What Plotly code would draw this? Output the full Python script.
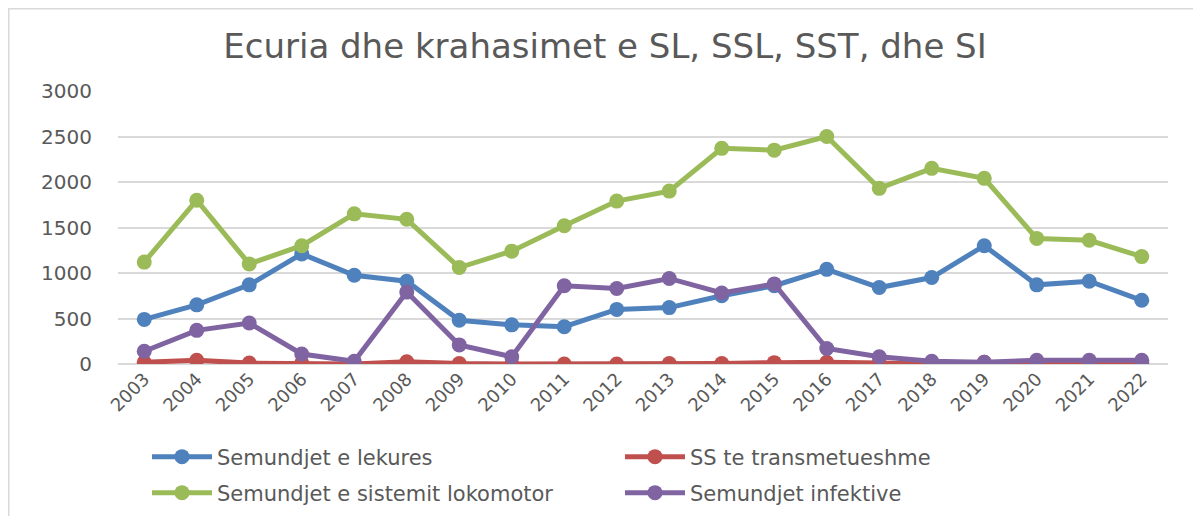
import plotly.graph_objects as go

years = [str(y) for y in range(2003, 2023)]
lekures = [490, 650, 870, 1210, 975, 910, 480, 430, 410, 600, 620, 750, 860, 1040, 840, 950, 1300, 870, 910, 700]
transmetueshme = [20, 40, 10, 10, 0, 25, 5, 0, 0, 0, 5, 5, 15, 20, 10, 0, 20, 5, 5, 10]
lokomotor = [1120, 1800, 1100, 1300, 1650, 1590, 1060, 1240, 1520, 1790, 1900, 2370, 2350, 2500, 1930, 2150, 2040, 1380, 1360, 1180]
infektive = [140, 370, 450, 110, 30, 790, 210, 80, 860, 830, 940, 780, 880, 170, 80, 30, 20, 40, 40, 40]

series = [
    ("Semundjet e lekures", lekures, "#4F81BD", "legend"),
    ("SS te transmetueshme", transmetueshme, "#C0504D", "legend"),
    ("Semundjet e sistemit lokomotor", lokomotor, "#9BBB59", "legend2"),
    ("Semundjet infektive", infektive, "#8064A2", "legend2"),
]

FONT = "DejaVu Sans, Liberation Sans, Arial"

fig = go.Figure()
for name, vals, col, lg in series:
    fig.add_trace(go.Scatter(
        x=years, y=vals, name=name, mode="lines+markers",
        line=dict(color=col, width=5),
        marker=dict(color=col, size=15),
        legend=lg,
    ))

W, H = 1201, 516
OFF = 8  # page body margin
# plot area in page coordinates: left 118, right 1168, top 91, bottom 364
ml = 118 - OFF
mt = 91 - OFF
mr = W - (1168 - OFF)
mb = H - (364 - OFF)
pw, ph = W - ml - mr, H - mt - mb

def px_x(p):  # figure px -> paper
    return (p - ml) / pw

def px_y(p):
    return (H - mb - p) / ph

def leg(ypage):
    return dict(orientation="h", xref="container", yref="container",
                x=(147 - OFF) / W, xanchor="left",
                y=1 - (ypage - OFF) / H, yanchor="middle",
                entrywidth=398, entrywidthmode="pixels",
                font=dict(size=21, color="#595959", family=FONT),
                itemwidth=60, bgcolor="rgba(0,0,0,0)")

fig.update_layout(
    width=W, height=H,
    margin=dict(l=ml, r=mr, t=mt, b=mb, autoexpand=False),
    paper_bgcolor="white", plot_bgcolor="white",
    font=dict(family=FONT, color="#595959", size=17),
    title=dict(text="Ecuria dhe krahasimet e SL, SSL, SST, dhe SI",
               x=(605 - OFF) / W, xref="container", xanchor="center",
               y=1 - (46 - OFF) / H, yanchor="middle",
               font=dict(size=34, color="#595959", family=FONT)),
    xaxis=dict(type="category", range=[-0.5, 19.5], showgrid=False,
               tickangle=-45, tickfont=dict(size=18, color="#595959"),
               ticks="", showline=False, zeroline=False),
    yaxis=dict(range=[0, 3000], dtick=500, showgrid=True, gridcolor="#D9D9D9",
               gridwidth=1.5, tickfont=dict(size=20, color="#595959"),
               ticks="", showline=False, zeroline=True, zerolinecolor="#D9D9D9",
               zerolinewidth=1.5, ticklabelstandoff=25),
    legend=leg(457),
    legend2=leg(493),
    shapes=[
        dict(type="line", xref="paper", yref="paper",
             x0=px_x(0), x1=px_x(W), y0=px_y(0), y1=px_y(0),
             line=dict(color="#D9D9D9", width=3), layer="below"),
        dict(type="line", xref="paper", yref="paper",
             x0=px_x(0), x1=px_x(0), y0=px_y(0), y1=px_y(H),
             line=dict(color="#D9D9D9", width=3), layer="below"),
    ],
)

fig.write_html("out.html")
